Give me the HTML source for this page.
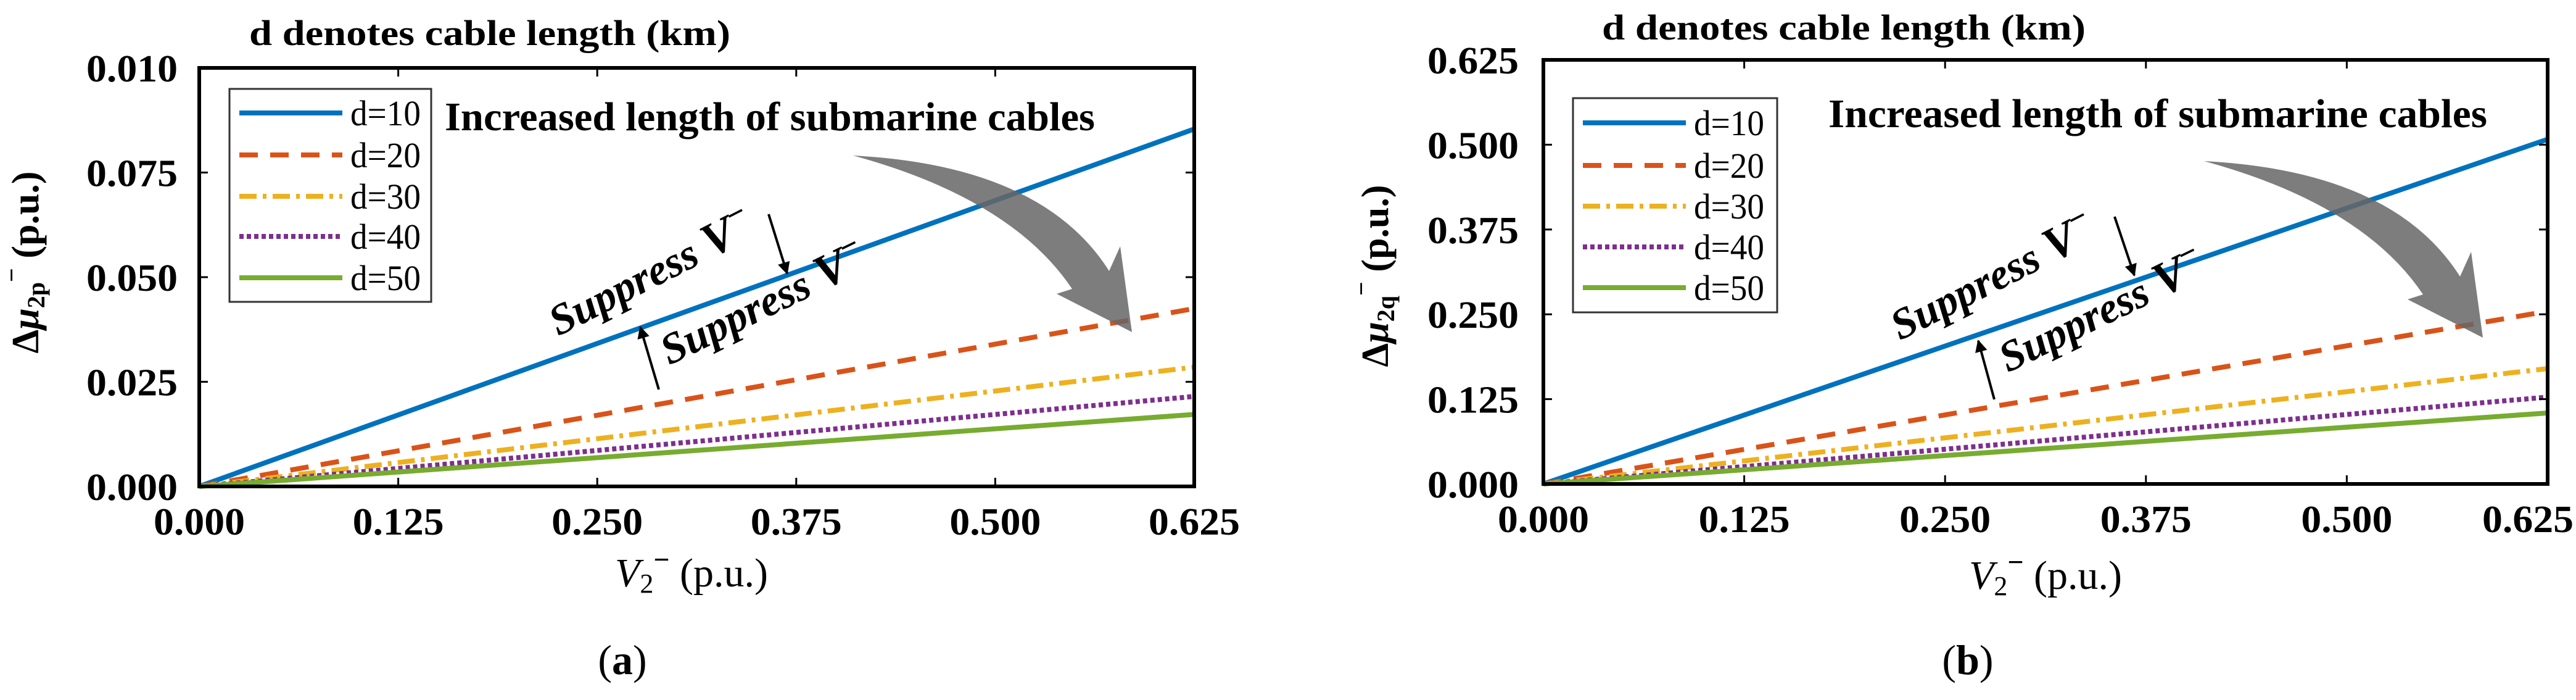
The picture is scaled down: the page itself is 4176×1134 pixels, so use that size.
<!DOCTYPE html>
<html><head><meta charset="utf-8">
<style>
html,body{margin:0;padding:0;background:#fff;}
svg{display:block;font-family:"Liberation Serif",serif;}
</style></head>
<body>
<svg id="fig" width="4176" height="1134" viewBox="0 0 4176 1134" xmlns="http://www.w3.org/2000/svg">
<defs>
<marker id="ah" viewBox="0 0 10 10" refX="9" refY="5" markerWidth="5" markerHeight="5" orient="auto"><path d="M0,0 L10,5 L0,10 z" fill="#000"/></marker>
</defs>
<g id="panelA"></g>
<g id="panelB"></g>
</svg>
<script>
const xValues = [0, 0.625];
const xTickVals = [0, 0.125, 0.25, 0.375, 0.5, 0.625];
const xTickLabels = ["0.000","0.125","0.250","0.375","0.500","0.625"];
const seriesNames = ["d=10","d=20","d=30","d=40","d=50"];
const yTickValsA = [0, 0.025, 0.05, 0.075, 0.1];
const yTickLabelsA = ["0.000","0.025","0.050","0.075","0.010"];
const seriesA_d10 = [0, 0.0854];
const seriesA_d20 = [0, 0.0425];
const seriesA_d30 = [0, 0.0285];
const seriesA_d40 = [0, 0.0215];
const seriesA_d50 = [0, 0.0172];
const yTickValsB = [0, 0.125, 0.25, 0.375, 0.5, 0.625];
const yTickLabelsB = ["0.000","0.125","0.250","0.375","0.500","0.625"];
const seriesB_d10 = [0, 0.508];
const seriesB_d20 = [0, 0.2545];
const seriesB_d30 = [0, 0.170];
const seriesB_d40 = [0, 0.128];
const seriesB_d50 = [0, 0.1046];

const NS="http://www.w3.org/2000/svg";
const colors=["#0072BD","#D95319","#EDB120","#7E2F8E","#77AC30"];
const dashes=["none","30 20","28 10 6 10","7 5","none"];
function mk(parent,tag,attrs,text){const e=document.createElementNS(NS,tag);for(const k in attrs)e.setAttribute(k,attrs[k]);if(text!==undefined)e.textContent=text;parent.appendChild(e);return e;}

function drawPanel(g,c){
  const sx=v=>c.x0+(v-0)/(0.625)*(c.x1-c.x0);
  const sy=v=>c.y1-(v-0)/(c.ymax)*(c.y1-c.y0);
  let t=mk(g,'text',{x:c.titleX,y:c.titleY,'font-size':58,'font-weight':'bold',textLength:c.titleW,lengthAdjust:'spacingAndGlyphs'},'d denotes cable length (km)');
  
  
  c.series.forEach((s,i)=>{
    const p=mk(g,'polyline',{points:xValues.map((x,j)=>sx(x)+','+sy(s[j])).join(' '),fill:'none',stroke:colors[i],'stroke-width':8,'stroke-dasharray':dashes[i]});
    
    
  });
  const fr=mk(g,'rect',{x:c.x0,y:c.y0,width:c.x1-c.x0,height:c.y1-c.y0,fill:'none',stroke:'#000','stroke-width':6});
  
  
  xTickVals.forEach((v,i)=>{
    const x=sx(v);
    mk(g,'line',{x1:x,y1:c.y1,x2:x,y2:c.y1-14,stroke:'#000','stroke-width':3});
    mk(g,'line',{x1:x,y1:c.y0,x2:x,y2:c.y0+14,stroke:'#000','stroke-width':3});
    let lx=x, anchor='middle';
    if(c.clampRight && i===xTickVals.length-1){lx=4172;anchor='end';}
    const l=mk(g,'text',{x:lx,y:c.xlabY,'font-size':62,'font-weight':'bold','text-anchor':anchor,textLength:148,lengthAdjust:'spacingAndGlyphs'},xTickLabels[i]);
    
    
  });
  c.yVals.forEach((v,i)=>{
    const y=sy(v);
    mk(g,'line',{x1:c.x0,y1:y,x2:c.x0+14,y2:y,stroke:'#000','stroke-width':3});
    mk(g,'line',{x1:c.x1,y1:y,x2:c.x1-14,y2:y,stroke:'#000','stroke-width':3});
    const l=mk(g,'text',{x:c.ylabX,y:y+22,'font-size':62,'font-weight':'bold','text-anchor':'end',textLength:148,lengthAdjust:'spacingAndGlyphs'},c.yLabels[i]);
    
    
  });
  const lg=mk(g,'g',{});
  
  
  mk(lg,'rect',{x:c.lgX,y:c.lgY,width:c.lgW,height:c.lgH,fill:'#fff',stroke:'#333','stroke-width':3});
  c.lgRows.forEach((ry,i)=>{
    const e=mk(lg,'g',{});
    
    
    mk(e,'line',{x1:c.lgX+16,y1:ry,x2:c.lgX+183,y2:ry,stroke:colors[i],'stroke-width':8,'stroke-dasharray':dashes[i]});
    mk(e,'text',{x:c.lgX+196,y:ry+20,'font-size':58,textLength:114,lengthAdjust:'spacingAndGlyphs'},seriesNames[i]);
  });
  const n=mk(g,'text',{x:c.noteX,y:c.noteY,'font-size':66,'font-weight':'bold',textLength:c.noteW,lengthAdjust:'spacingAndGlyphs'},'Increased length of submarine cables');
  
  
  const ga=mk(g,'path',{d:'M1383,252 Q1690,268 1798,439 L1816,399 L1835,538 L1713,476 L1738,468 Q1640,322 1383,252 Z',fill:'#666','fill-opacity':0.85,transform:c.gaT});
  
  
  c.sup.forEach(s=>{
    const tx=mk(g,'text',{x:0,y:0,'font-size':70,'font-weight':'bold','font-style':'italic',transform:`translate(${s[0]},${s[1]}) rotate(${s[2]})`});
    
    
    tx.innerHTML='Suppress <tspan font-size="78">V</tspan><tspan dy="-30" font-size="52">−</tspan>';
  });
  c.arrows.forEach(a=>{
    const l=mk(g,'line',{x1:a[0],y1:a[1],x2:a[2],y2:a[3],stroke:'#000','stroke-width':4,'marker-end':'url(#ah)'});
    
    
  });
  const xt=mk(g,'text',{x:c.xtX,y:c.xtY,'font-size':66});
  
  
  xt.innerHTML='<tspan font-style="italic">V</tspan><tspan font-size="44" dy="10">2</tspan><tspan dy="-38" font-size="46" font-weight="bold">−</tspan><tspan dy="28"> (p.u.)</tspan>';
  const yt=mk(g,'text',{x:0,y:0,'font-size':62,'font-weight':'bold','text-anchor':'middle',transform:`translate(${c.ytX},${c.ytY}) rotate(-90)`});
  
  
  yt.innerHTML='Δ<tspan font-style="italic">μ</tspan><tspan font-size="40" dy="10">2'+c.sub+'</tspan><tspan dy="-40" font-size="40">−</tspan><tspan dy="30">  (p.u.)</tspan>';
  const pl=mk(g,'text',{x:c.plX,y:1092,'font-size':68,'text-anchor':'middle'});
  
  
  pl.innerHTML='(<tspan font-weight="bold">'+c.pl+'</tspan>)';
}

drawPanel(document.getElementById('panelA'),{
  x0:323,x1:1936,y0:110,y1:788,ymax:0.1,
  series:[seriesA_d10,seriesA_d20,seriesA_d30,seriesA_d40,seriesA_d50],
  yVals:yTickValsA,yLabels:yTickLabelsA,ylabX:288,xlabY:866,
  titleX:404,titleY:73,titleW:780,
  lgX:372,lgY:144,lgW:327,lgH:345,lgRows:[183,251,318,383,450],
  noteX:721,noteY:211,noteW:1054,gaT:'',
  sup:[[905,545,-27],[1085,592,-26]],
  arrows:[[1246,347,1276,443],[1068,631,1038,530]],
  xtX:997,xtY:950,ytX:62,ytY:425,sub:'p',plX:1009,pl:'a'
});
drawPanel(document.getElementById('panelB'),{
  x0:2502,x1:4130,y0:97,y1:784,ymax:0.625,clampRight:true,
  series:[seriesB_d10,seriesB_d20,seriesB_d30,seriesB_d40,seriesB_d50],
  yVals:yTickValsB,yLabels:yTickLabelsB,ylabX:2462,xlabY:862,
  titleX:2597,titleY:64,titleW:784,
  lgX:2550,lgY:159,lgW:331,lgH:347,lgRows:[199,268,334,400,466],
  noteX:2964,noteY:206,noteW:1068,gaT:'translate(2190,9)',
  sup:[[3080,552,-27],[3255,604,-26]],
  arrows:[[3428,351,3460,446],[3233,647,3207,552]],
  xtX:3192,xtY:954,ytX:2250,ytY:447,sub:'q',plX:3190,pl:'b'
});
</script>
</body></html>
